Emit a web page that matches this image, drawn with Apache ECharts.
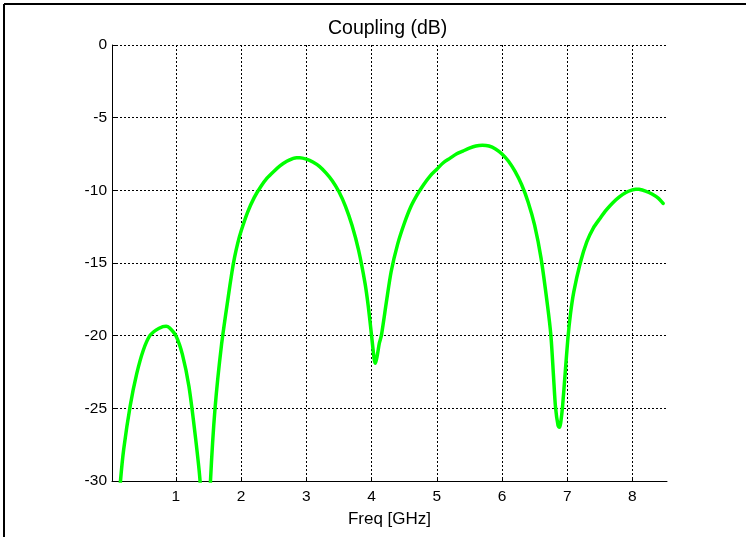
<!DOCTYPE html>
<html>
<head>
<meta charset="utf-8">
<script src="https://cdn.jsdelivr.net/npm/echarts@6/dist/echarts.min.js"></script>
<style>
html,body{margin:0;padding:0;background:#fff;}
#c{width:746px;height:537px;}
</style>
</head>
<body>
<div id="c"></div>
<script>
const titleText = 'Coupling (dB)';
const xName = 'Freq [GHz]';
const freq = [0.10,0.15,0.20,0.30,0.40,0.50,0.60,0.70,0.80,0.85,0.90,1.00,1.10,1.20,1.30,1.37,1.42,1.45,1.49,1.53,1.60,1.70,1.80,1.86,1.90,1.95,2.00,2.10,2.20,2.30,2.40,2.50,2.60,2.70,2.80,2.85,2.90,3.00,3.10,3.20,3.30,3.40,3.50,3.60,3.70,3.80,3.90,3.95,4.00,4.04,4.06,4.09,4.12,4.15,4.23,4.30,4.40,4.50,4.60,4.70,4.80,4.90,5.00,5.10,5.20,5.30,5.40,5.50,5.60,5.70,5.80,5.90,6.00,6.10,6.20,6.30,6.40,6.50,6.60,6.70,6.75,6.79,6.82,6.86,6.88,6.90,6.93,6.97,7.01,7.05,7.10,7.20,7.30,7.40,7.50,7.60,7.70,7.80,7.90,8.00,8.05,8.10,8.20,8.30,8.40,8.47];
const coupling = [-33.0,-30.0,-27.8,-24.8,-22.6,-21.0,-20.0,-19.6,-19.38,-19.35,-19.45,-20.0,-21.3,-23.5,-27.0,-30.0,-35.0,-40.0,-35.0,-30.0,-25.0,-20.6,-17.4,-15.6,-14.6,-13.6,-12.8,-11.5,-10.5,-9.75,-9.15,-8.7,-8.3,-8.0,-7.8,-7.75,-7.75,-7.85,-8.05,-8.35,-8.8,-9.35,-10.1,-11.1,-12.4,-14.1,-16.4,-18.0,-20.0,-21.6,-21.9,-21.3,-20.5,-20.0,-17.6,-15.6,-13.7,-12.3,-11.15,-10.3,-9.6,-9.0,-8.55,-8.1,-7.8,-7.5,-7.3,-7.1,-6.95,-6.9,-6.95,-7.15,-7.5,-8.0,-8.7,-9.6,-10.8,-12.4,-14.7,-18.0,-20.0,-22.8,-24.9,-26.2,-26.3,-26.0,-24.8,-22.5,-20.2,-18.5,-17.0,-15.0,-13.55,-12.6,-11.95,-11.35,-10.85,-10.45,-10.15,-9.97,-9.92,-9.93,-10.05,-10.25,-10.55,-10.9];
const xMin = 0.02, xMax = 8.53;
const yMin = -30, yMax = 0, yStep = 5;

const chart = echarts.init(document.getElementById('c'), null, {renderer:'canvas'});
const font = 'Liberation Sans, Arial, Helvetica, sans-serif';
const gridDash = [2, 2];
chart.setOption({
  animation: false,
  backgroundColor: '#ffffff',
  grid: {left: 112, right: 79, top: 45, bottom: 56, containLabel: false},
  xAxis: {
    type: 'value', min: xMin, max: xMax, minInterval: 1, maxInterval: 1,
    name: xName, nameLocation: 'middle', nameGap: 30,
    nameTextStyle: {fontFamily: font, fontSize: 17, color: '#000'},
    axisLine: {show: true, onZero: false, lineStyle: {color: '#000', width: 1}},
    axisTick: {show: true, inside: true, length: 4, lineStyle: {color: '#000'}},
    axisLabel: {fontFamily: font, fontSize: 15.5, color: '#000', margin: 8, showMinLabel: false, showMaxLabel: false},
    splitLine: {show: true, showMinLine: false, showMaxLine: false, lineStyle: {color: '#000', type: gridDash, width: 1}}
  },
  yAxis: {
    type: 'value', min: yMin, max: yMax, interval: yStep,
    axisLine: {show: true, onZero: false, lineStyle: {color: '#000', width: 1}},
    axisTick: {show: true, inside: true, length: 4, lineStyle: {color: '#000'}},
    axisLabel: {fontFamily: font, fontSize: 15.5, color: '#000', margin: 5},
    splitLine: {show: true, lineStyle: {color: '#000', type: gridDash, width: 1}}
  },
  series: [{
    type: 'line', data: freq.map((f, i) => [f, coupling[i]]),
    showSymbol: false, symbol: 'none', clip: true, smooth: 0.25,
    lineStyle: {color: '#00ff00', width: 3.5, join: 'round', cap: 'round'}
  }],
  graphic: [
    {type: 'text', left: 388 - 60, top: 19, style: {text: titleText, font: '19.5px ' + font, fill: '#000', textAlign: 'left'}},
    {type: 'line', shape: {x1: 4, y1: 4, x2: 746, y2: 4}, style: {stroke: '#000', lineWidth: 2}},
    {type: 'line', shape: {x1: 4, y1: 4, x2: 4, y2: 537}, style: {stroke: '#000', lineWidth: 2}}
  ]
});
</script>
</body>
</html>
